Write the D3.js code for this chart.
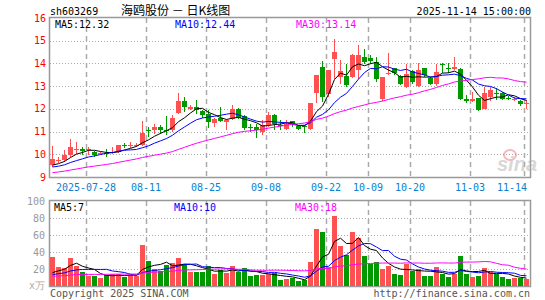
<!DOCTYPE html>
<html>
<head>
<meta charset="utf-8">
<script src="https://cdn.jsdelivr.net/npm/d3@7"></script>
<style>
  body { margin: 0; background: #fff; }
  svg { display: block; }
  text { font-family: "DejaVu Sans Mono", monospace; font-size: 10px; }
</style>
</head>
<body>
<div class="chart"></div>
<script>
// daily bars 2025-07-18 .. 2025-11-14
var opens = [9.52,9.72,9.74,9.96,10.20,10.25,10.20,10.12,10.00,10.05,
  10.08,10.10,10.42,10.36,10.38,10.40,11.08,11.05,11.18,11.08,
  11.05,11.79,12.33,11.99,12.07,11.89,11.78,11.35,11.60,11.45,
  11.57,12.00,11.67,11.20,11.18,10.98,11.28,11.72,11.30,11.11,
  11.45,11.25,11.25,11.13,12.67,13.84,12.67,14.18,13.40,13.43,
  13.40,13.70,14.30,14.24,14.06,12.45,13.55,13.78,13.45,12.98,
  13.65,13.02,13.78,13.38,13.11,13.96,13.80,13.74,13.77,12.44,
  12.33,12.47,12.00,12.54,12.72,12.69,12.50,12.42,12.34,12.23];
var closes = [9.78,9.76,9.96,10.31,10.22,10.15,10.23,9.97,10.05,10.00,
  10.12,10.39,10.38,10.42,10.43,10.92,11.02,11.18,11.05,11.03,
  11.58,12.33,12.05,12.10,11.94,11.71,11.42,11.54,11.47,11.52,
  12.00,11.60,11.13,11.15,11.06,11.28,11.72,11.32,11.26,11.35,
  11.30,11.13,11.23,12.26,13.47,12.52,13.72,14.50,13.65,13.04,
  14.35,14.35,14.10,14.10,13.33,13.40,13.60,13.54,13.10,13.54,
  13.17,13.71,13.46,13.13,13.64,13.93,13.77,13.84,12.44,12.33,
  12.44,11.95,12.69,12.83,12.68,12.44,12.47,12.45,12.22,12.26];
var highs = [10.35,9.90,10.18,10.66,10.53,10.32,10.30,10.15,10.10,10.24,
  10.30,10.40,10.50,10.54,10.50,11.47,11.20,11.32,11.29,11.67,
  11.73,12.70,12.52,12.16,12.40,11.94,11.94,11.61,12.07,11.55,
  12.19,12.05,11.72,11.34,11.34,11.50,11.87,11.77,11.50,11.50,
  11.45,11.30,11.28,12.27,13.50,14.10,13.72,15.09,14.16,13.99,
  14.40,14.80,14.62,14.35,14.28,13.40,14.45,13.82,13.50,13.98,
  13.70,14.00,13.80,13.42,13.98,14.00,14.00,14.27,13.78,12.60,
  12.73,12.50,12.96,12.98,12.92,12.73,12.58,12.52,12.37,12.40];
var lows = [9.45,9.60,9.68,9.90,10.03,9.96,9.97,9.88,9.95,9.88,
  10.03,10.05,10.29,10.29,10.33,10.35,10.76,10.91,10.88,10.85,
  10.97,11.76,11.86,11.95,11.79,11.60,11.17,11.20,11.42,11.09,
  11.50,11.55,11.06,10.98,10.73,10.84,11.20,11.06,11.06,11.06,
  11.20,11.06,10.95,11.06,12.26,12.30,12.52,13.33,13.10,12.96,
  13.36,13.33,13.99,13.99,13.18,12.35,13.47,13.47,13.05,12.92,
  13.10,12.95,13.40,13.05,13.00,13.60,13.58,13.72,12.40,12.26,
  12.30,11.92,11.98,12.35,12.38,12.40,12.38,12.35,12.12,12.00];
// volume, 10k lots
var volumes = [34,22,21,33,24,16,12,12,9.5,12.6,
  14.6,14,10.6,12.6,12,48,29,20,18,25,
  27,33,26,17,16,16,24,14,18.5,15,
  23,17,21,11.4,12.6,13,14,15.4,6.7,7.9,
  9.5,6,6.7,28,67,63,22,82,47,36,
  64,56,35,25.6,28,20.5,24,14,12.6,26,
  18,20,11.4,11.4,22.4,14,10.6,14.6,35,14,
  10.6,11.4,21,17,14,10.6,7.9,9,9.8,8.7];
// sessions before the window, only feed the moving averages
var prevCloses = [8.80,8.85,8.90,8.82,8.78,8.85,8.92,8.95,8.88,8.90,
  8.86,8.84,8.92,8.96,8.97,9.55,9.70,9.65,9.60,9.60,
  9.40,9.35,9.30,9.38,9.37,9.42,9.48,9.45,9.47];
var prevVolumes = [10,11,9.5,10.5,10,11,10.5,9.5,10,11,
  10.5,10,11,10,10.5,10.5,10,11,10.5,10.5,
  11,12,10.5,11,11,11,12,10.5,11];

var dateIdx = [6,16,26,36,46,53,60,70,79];
var dateLabels = ['2025-07-28','08-11','08-25','09-08','09-22','10-09','10-20','11-03','11-14'];
var priceTicks = [9,10,11,12,13,14,15,16];
var volTicks = [20,40,60,80,100];
var maPeriods = [5,10,30];
var maColors = ['#000','#00f','#f0f'];
var priceHeader = ['MA5:12.32','MA10:12.44','MA30:13.14'];
var volHeader = ['MA5:7','MA10:10','MA30:18'];

const W = 545, H = 300;
const L = 50, R = 530;
const pTop = 18, pBot = 177;
const vTop = 201, vBot = 286;

var svg = d3.select('.chart').append('svg')
  .attr('width', W).attr('height', H);

var x = d3.scaleBand().domain(d3.range(closes.length)).range([L, R]);
var yP = d3.scaleLinear().domain([9, 16]).range([pBot, pTop]);
var yV = d3.scaleLinear().domain([0, 100]).range([vBot, vTop]);
var bw = 5;

function movingAvg(prev, vals, n) {
  var all = prev.concat(vals);
  return vals.map(function (v, i) {
    var end = prev.length + i + 1;
    return d3.mean(all.slice(end - n, end));
  });
}

var red = '#ff5151', green = '#009900', gridC = '#aaa';

function panel(top, bot, ticks, yScale) {
  var g = svg.append('g');
  g.selectAll('.h').data(ticks).enter().append('line')
    .attr('x1', L).attr('x2', R)
    .attr('y1', d => Math.round(yScale(d)) + 0.5).attr('y2', d => Math.round(yScale(d)) + 0.5)
    .attr('stroke', gridC).attr('stroke-dasharray', '1,2');
  g.selectAll('.v').data(dateIdx).enter().append('line')
    .attr('x1', d => x(d) + 0.5).attr('x2', d => x(d) + 0.5)
    .attr('y1', top).attr('y2', bot)
    .attr('stroke', gridC).attr('stroke-width', 1.5).attr('stroke-dasharray', '5,4');
  g.append('rect')
    .attr('x', L - 0.5).attr('y', top - 0.5)
    .attr('width', R - L + 1).attr('height', bot - top + 1)
    .attr('fill', 'none').attr('stroke', '#999').attr('stroke-width', 1.5);
  return g;
}

panel(pTop, pBot, priceTicks.slice(1, -1), yP);
panel(vTop, vBot, volTicks.slice(0, -1), yV);

// watermark
var wm = svg.append('g').attr('opacity', 0.45);
wm.append('text').attr('x', 497).attr('y', 171)
  .style('font-family', 'Liberation Sans').style('font-size', '20px')
  .style('font-weight', 'bold').style('font-style', 'italic')
  .attr('fill', '#aaa').text('sina');
wm.append('ellipse').attr('cx', 510).attr('cy', 155).attr('rx', 6).attr('ry', 5)
  .attr('fill', 'none').attr('stroke', '#e66').attr('stroke-width', 2);

// candles
var isUp = i => closes[i] >= opens[i];
var cg = svg.append('g');
cg.selectAll('line').data(d3.range(closes.length)).enter().append('line')
  .attr('x1', i => x(i) + 2.5).attr('x2', i => x(i) + 2.5)
  .attr('y1', i => Math.round(yP(highs[i]))).attr('y2', i => Math.round(yP(lows[i])))
  .attr('stroke', i => isUp(i) ? red : green);
cg.selectAll('rect').data(d3.range(closes.length)).enter().append('rect')
  .attr('x', i => x(i))
  .attr('width', bw)
  .attr('y', i => Math.round(yP(Math.max(opens[i], closes[i]))))
  .attr('height', i => Math.max(1, Math.round(Math.abs(yP(opens[i]) - yP(closes[i])))))
  .attr('fill', i => isUp(i) ? red : green);

// volume bars
svg.append('g').selectAll('rect').data(d3.range(volumes.length)).enter().append('rect')
  .attr('x', i => x(i))
  .attr('width', bw)
  .attr('y', i => Math.round(yV(volumes[i])))
  .attr('height', i => vBot - Math.round(yV(volumes[i])))
  .attr('fill', i => isUp(i) ? red : green);

// moving averages
maPeriods.forEach(function (n, k) {
  var pm = movingAvg(prevCloses, closes, n);
  var vm = movingAvg(prevVolumes, volumes, n);
  svg.append('path').datum(pm)
    .attr('d', d3.line().x((d, i) => x(i) + 2.5).y(d => yP(d)))
    .attr('fill', 'none').attr('stroke', maColors[k]).attr('stroke-width', 1);
  svg.append('path').datum(vm)
    .attr('d', d3.line().x((d, i) => x(i) + 2.5).y(d => yV(d)))
    .attr('fill', 'none').attr('stroke', maColors[k]).attr('stroke-width', 1);
});

// axis labels
svg.append('g').selectAll('text').data(priceTicks).enter().append('text')
  .attr('x', 46).attr('y', d => yP(d)).attr('dy', '0.35em')
  .attr('text-anchor', 'end').attr('fill', '#f00').text(d => d);
svg.append('g').selectAll('text').data(volTicks).enter().append('text')
  .attr('x', 45).attr('y', d => yV(d)).attr('dy', '0.35em')
  .attr('text-anchor', 'end').attr('fill', '#999').text(d => d);
svg.append('text').attr('x', 45).attr('y', vBot + 3)
  .attr('text-anchor', 'end').attr('fill', '#aaa').text('x万');

svg.append('g').selectAll('text').data(dateIdx).enter().append('text')
  .attr('x', (d, k) => k === dateIdx.length - 1 ? R - 3 : x(d))
  .attr('y', 191)
  .attr('text-anchor', (d, k) => k === dateIdx.length - 1 ? 'end' : 'middle')
  .attr('fill', '#0a80d0').text((d, k) => dateLabels[k]);

// headers
var hx = [55, 175, 296];
priceHeader.forEach(function (t, k) {
  svg.append('text').attr('x', hx[k]).attr('y', 28).attr('fill', maColors[k]).text(t);
});
volHeader.forEach(function (t, k) {
  svg.append('text').attr('x', hx[k] - 1).attr('y', 211).attr('fill', maColors[k]).text(t);
});

svg.append('text').attr('x', 50).attr('y', 15).text('sh603269');
svg.append('text').attr('x', 121).attr('y', 15)
  .style('font-family', '"Noto Sans CJK SC"').style('font-size', '12px')
  .attr('xml:space', 'preserve').text('海鸥股份 － 日K线图');
svg.append('text').attr('x', 531).attr('y', 15).attr('text-anchor', 'end')
  .text('2025-11-14 15:00:00');

svg.append('text').attr('x', 50).attr('y', 297).attr('fill', '#555')
  .text('Copyright 2025 SINA.COM');
svg.append('text').attr('x', 530).attr('y', 297).attr('fill', '#555')
  .attr('text-anchor', 'end').text('http://finance.sina.com.cn');
</script>
</body>
</html>
